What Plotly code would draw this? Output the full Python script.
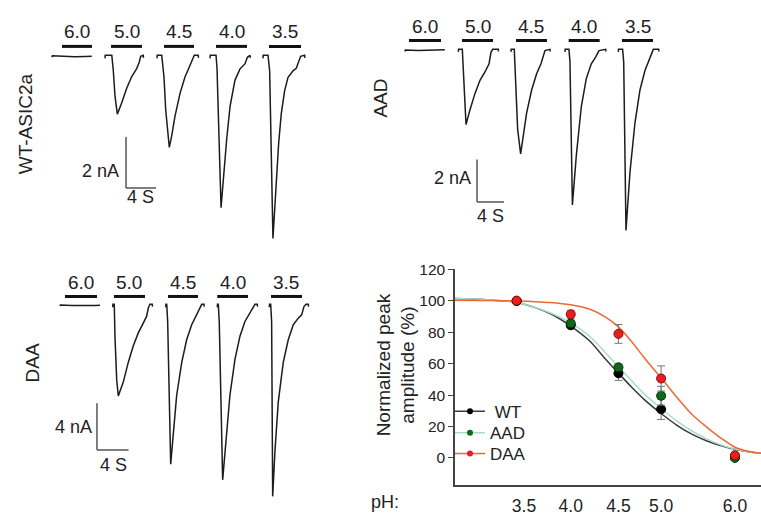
import plotly.graph_objects as go

W, H = 761, 516
FONT = "Liberation Sans, Arial, Helvetica, sans-serif"
INK = "#1c1c1c"

PH_LABELS = ["6.0", "5.0", "4.5", "4.0", "3.5"]

# ---------------- WT-ASIC2a sweeps: time (s, from sweep start) / current (nA)
WT_T = [
    [0, 0.05, 1.5, 3.0, 4.5, 5.3],
    [0, 0.03, 0.9, 1.1, 1.33, 1.64, 2.23, 2.9, 3.56, 4.22, 4.57, 4.75, 5.1, 5.13],
    [0, 0.03, 0.63, 0.93, 1.16, 1.43, 1.64, 1.96, 2.4, 3.07, 3.73, 4.31, 4.63, 4.97, 5.5, 5.53],
    [0, 0.03, 0.8, 0.93, 1.47, 1.78, 2.22, 2.67, 3.33, 4.0, 4.67, 4.98, 5.33, 5.36],
    [0, 0.03, 0.67, 0.89, 1.33, 1.56, 1.78, 2.09, 2.44, 2.89, 3.33, 4.0, 4.44, 4.67, 5.02, 5.56, 5.59],
]
WT_I = [
    [-0.08, -0.02, -0.04, -0.06, -0.05, -0.04],
    [-0.12, 0, 0, -0.58, -1.6, -2.3, -1.86, -1.28, -0.83, -0.52, -0.26, -0.04, 0, -0.1],
    [-0.12, 0, 0, -0.85, -2.13, -3.15, -3.6, -3.15, -2.38, -1.49, -0.85, -0.46, -0.2, 0, 0, -0.1],
    [-0.12, 0, 0, -0.5, -5.96, -4.82, -3.28, -2.0, -0.97, -0.53, -0.33, -0.08, 0, -0.1],
    [-0.12, 0, 0, -0.61, -7.16, -6.0, -4.72, -3.44, -2.28, -1.38, -0.87, -0.61, -0.51, -0.29, -0.04, 0, -0.1],
]
WT_SWEEP_START = [0, 7.07, 14.0, 21.07, 28.13]
WT_BAR_ON = [1.33, 0.8, 0.93, 0.8, 0.8]
WT_BAR_OFF = [5.33, 4.93, 4.93, 4.93, 5.07]

# ---------------- AAD sweeps
AAD_T = [
    [0, 0.05, 2.0, 4.0, 5.9],
    [0, 0.03, 0.59, 0.74, 0.89, 1.14, 1.73, 2.47, 3.21, 3.95, 4.55, 4.84, 5.09, 5.92, 5.95],
    [0, 0.03, 0.49, 0.74, 0.99, 1.43, 1.82, 2.32, 3.06, 3.8, 4.44, 4.79, 5.04, 5.78, 5.81],
    [0, 0.03, 0.59, 0.74, 1.1, 1.68, 2.42, 3.16, 3.9, 4.54, 5.04, 6.03, 6.06],
    [0, 0.03, 0.64, 0.8, 1.14, 1.73, 2.47, 3.21, 3.95, 4.44, 4.94, 5.19, 5.98, 6.01],
]
AAD_I = [
    [-0.1, -0.03, -0.06, -0.05, -0.02],
    [-0.12, 0, 0, -0.99, -2.54, -3.55, -2.85, -2.08, -1.46, -1.07, -0.68, -0.14, 0, 0, -0.1],
    [-0.12, 0, 0, -1.77, -3.78, -4.94, -4.09, -3.0, -1.92, -1.15, -0.68, -0.37, -0.06, 0, -0.1],
    [-0.12, 0, 0, -0.6, -7.35, -5.02, -2.7, -1.38, -0.68, -0.37, -0.06, 0, -0.1],
    [-0.12, 0, 0, -0.6, -8.56, -5.8, -3.47, -1.92, -1.0, -0.6, -0.29, 0, 0, -0.1],
]
AAD_SWEEP_START = [0, 7.9, 15.7, 23.7, 31.6]
AAD_BAR_ON = [0.59, 0.55, 0.74, 0.55, 0.55]
AAD_BAR_OFF = [5.33, 5.14, 5.33, 5.14, 5.14]

# ---------------- DAA sweeps
DAA_T = [
    [0, 0.05, 1.5, 3.0, 4.5, 5.06],
    [0, 0.03, 0.2, 0.29, 0.51, 0.71, 1.34, 1.97, 2.6, 3.24, 3.87, 4.29, 4.5, 4.71, 5.01, 5.04],
    [0, 0.03, 0.13, 0.25, 0.63, 0.96, 1.39, 2.03, 2.66, 3.29, 3.92, 4.34, 4.56, 4.85, 4.88],
    [0, 0.03, 0.13, 0.25, 0.68, 1.1, 1.6, 2.24, 2.87, 3.5, 4.14, 4.48, 4.77, 5.06, 5.09],
    [0, 0.03, 0.18, 0.3, 0.43, 0.72, 1.14, 1.77, 2.41, 3.04, 3.67, 4.1, 4.39, 4.65, 4.94, 4.97],
]
DAA_I = [
    [-0.15, -0.05, -0.1, -0.12, -0.1, -0.08],
    [-0.25, 0, 0, -2.8, -6.47, -7.82, -6.64, -4.96, -3.55, -2.44, -1.6, -1.03, -0.34, 0, 0, -0.2],
    [-0.25, 0, 0, -1.5, -13.64, -10.86, -7.76, -4.96, -3.0, -1.74, -0.9, -0.34, 0, 0, -0.2],
    [-0.25, 0, 0, -1.5, -14.98, -11.4, -7.76, -4.68, -2.72, -1.46, -0.76, -0.34, 0, 0, -0.2],
    [-0.25, 0, 0, -1.5, -16.39, -12.52, -8.32, -4.96, -3.0, -1.74, -1.18, -0.9, -0.19, 0, 0, -0.2],
]
DAA_SWEEP_START = [0, 6.67, 13.38, 19.91, 26.49]
DAA_BAR_ON = [0.63, 0.16, 0.29, 0.0, 0.22]
DAA_BAR_OFF = [4.68, 4.09, 4.09, 3.89, 4.14]

# ---------------- pH dose-response
PH = [3.5, 4.0, 4.5, 5.0, 6.0]
PH_TICKTEXT = ["\u00a0\u00a0\u00a03.5", "4.0", "4.5", "5.0", "6.0"]
WT_NORM = [100.0, 84.5, 53.9, 31.0, 0.5]
WT_SEM = [0.5, 1.5, 4.5, 6.5, 1.0]
AAD_NORM = [100.0, 85.7, 57.7, 39.6, 0.0]
AAD_SEM = [0.5, 2.0, 2.0, 6.0, 1.0]
DAA_NORM = [100.2, 91.5, 79.0, 50.6, 1.7]
DAA_SEM = [0.5, 2.5, 6.0, 8.0, 1.0]

FIT_PH = [3.0, 3.2, 3.5, 3.8, 4.0, 4.2, 4.35, 4.5, 4.65, 4.8, 5.0, 5.2, 5.4, 5.6, 5.8, 6.0, 6.2, 6.4]
WT_FIT = [101.6, 101.0, 99.0, 92.0, 84.0, 74.0, 63.5, 54.0, 45.0, 37.0, 28.3, 20.8, 15.0, 10.8, 7.8, 5.5, 4.0, 3.0]
AAD_FIT = [101.5, 101.0, 99.0, 92.5, 86.0, 77.0, 67.5, 58.0, 49.0, 40.5, 31.5, 23.5, 17.0, 12.0, 8.2, 5.6, 4.0, 3.0]
DAA_FIT = [100.5, 100.3, 100.0, 99.0, 97.5, 94.5, 90.0, 83.5, 74.0, 63.5, 51.0, 38.5, 27.5, 19.5, 12.5, 6.8, 4.2, 2.9]
Y_TICKS = [0, 20, 40, 60, 80, 100, 120]
LEGEND_NAMES = ["\u00a0WT", "AAD", "DAA"]


# ---------------- layout helpers (pixel -> paper)
def px(x):
    return x / W


def py(y):
    return 1 - y / H


def label(text, x, y, size=18, angle=0):
    return dict(text=text, xref="paper", yref="paper", x=px(x), y=py(y),
                showarrow=False, xanchor="center", yanchor="middle", textangle=angle,
                font=dict(size=size, color="#222222", family=FONT))


# panel geometry: box in pixels, t=0 pixel, px per s, baseline pixel, px per nA
PANELS = [
    dict(name="WT-ASIC2a", box=(40, 5, 350, 248), t0=52, pps=7.5, base=48, ppn=26.0,
         T=WT_T, I=WT_I, start=WT_SWEEP_START, on=WT_BAR_ON, off=WT_BAR_OFF,
         bar_y=39, lab_y=24, sb=(9.87, -5.19), sb_nA=2, sb_txt="2 nA",
         sb_lab=(101, 166), s_lab=(140, 192), title=(25, 118)),
    dict(name="AAD", box=(392, 5, 705, 248), t0=405, pps=6.75, base=42, ppn=21.5,
         T=AAD_T, I=AAD_I, start=AAD_SWEEP_START, on=AAD_BAR_ON, off=AAD_BAR_OFF,
         bar_y=33, lab_y=19, sb=(10.67, -7.21), sb_nA=2, sb_txt="2 nA",
         sb_lab=(452, 173), s_lab=(490, 211), title=(381, 92)),
    dict(name="DAA", box=(40, 258, 350, 512), t0=60, pps=7.9, base=301, ppn=11.9,
         T=DAA_T, I=DAA_I, start=DAA_SWEEP_START, on=DAA_BAR_ON, off=DAA_BAR_OFF,
         bar_y=293, lab_y=279, sb=(4.68, -12.44), sb_nA=4, sb_txt="4 nA",
         sb_lab=(73, 426), s_lab=(113, 464), title=(32, 361)),
]

fig = go.Figure()
shapes = []
annotations = []
layout_axes = {}

for k, p in enumerate(PANELS, start=1):
    xa = "x" if k == 1 else f"x{k}"
    ya = "y" if k == 1 else f"y{k}"
    x0, y0, x1, y1 = p["box"]
    xr = [(x0 - p["t0"]) / p["pps"], (x1 - p["t0"]) / p["pps"]]
    yr = [(p["base"] - y1) / p["ppn"], (p["base"] - y0) / p["ppn"]]
    layout_axes["xaxis" if k == 1 else f"xaxis{k}"] = dict(
        domain=[px(x0), px(x1)], range=xr, visible=False, anchor=ya)
    layout_axes["yaxis" if k == 1 else f"yaxis{k}"] = dict(
        domain=[py(y1), py(y0)], range=yr, visible=False, anchor=xa)

    for j in range(5):
        off = p["start"][j]
        fig.add_trace(go.Scatter(
            x=[t + off for t in p["T"][j]], y=p["I"][j], mode="lines",
            line=dict(color=INK, width=1.5), xaxis=xa, yaxis=ya,
            showlegend=False, hoverinfo="skip"))
        b0 = off + p["on"][j]
        b1 = off + p["off"][j]
        shapes.append(dict(type="line", xref=xa, yref="paper",
                           x0=b0, x1=b1, y0=py(p["bar_y"]), y1=py(p["bar_y"]),
                           line=dict(color="#111111", width=3)))
        annotations.append(dict(text=PH_LABELS[j], xref=xa, yref="paper",
                                x=(b0 + b1) / 2, y=py(p["lab_y"]), showarrow=False,
                                xanchor="center", yanchor="middle",
                                font=dict(size=19, color="#222222", family=FONT)))

    # scale bar
    sx, sy = p["sb"]
    shapes.append(dict(type="line", xref=xa, yref=ya, x0=sx, x1=sx, y0=sy, y1=sy + p["sb_nA"],
                       line=dict(color="#555555", width=1.5)))
    shapes.append(dict(type="line", xref=xa, yref=ya, x0=sx, x1=sx + 4, y0=sy, y1=sy,
                       line=dict(color="#555555", width=1.5)))
    annotations.append(label(p["sb_txt"], *p["sb_lab"]))
    annotations.append(label("4 S", *p["s_lab"]))
    annotations.append(label(p["name"], *p["title"], size=19, angle=-90))

# ---------------- dose-response panel (axes 4)
CURVES = [
    (WT_FIT, WT_NORM, WT_SEM, "#3a3a3a", "#000000", "#000000"),
    (AAD_FIT, AAD_NORM, AAD_SEM, "#a9dccb", "#0f6a16", "#0a2a0a"),
    (DAA_FIT, DAA_NORM, DAA_SEM, "#ec6a32", "#ee1c1c", "#7a1010"),
]
for fit, vals, sem, lcol, mcol, ocol in CURVES:
    fig.add_trace(go.Scatter(x=FIT_PH, y=fit, mode="lines",
                             line=dict(color=lcol, width=1.5, shape="spline", smoothing=0.8),
                             xaxis="x4", yaxis="y4", showlegend=False, hoverinfo="skip"))
for fit, vals, sem, lcol, mcol, ocol in CURVES:
    fig.add_trace(go.Scatter(x=PH, y=vals, mode="markers",
                             marker=dict(size=9, color=mcol, line=dict(color=ocol, width=1)),
                             error_y=dict(type="data", array=sem, color="#777777", thickness=1, width=4),
                             xaxis="x4", yaxis="y4", showlegend=False, hoverinfo="skip"))

LEGEND_ROWS = [410, 432, 453]
legends = {}
for i, (fit, vals, sem, lcol, mcol, ocol) in enumerate(CURVES):
    lg = "legend" if i == 0 else f"legend{i + 1}"
    fig.add_trace(go.Scatter(x=[None], y=[None], mode="lines+markers", name=LEGEND_NAMES[i],
                             line=dict(color=lcol, width=1.5),
                             marker=dict(size=6, color=mcol),
                             xaxis="x4", yaxis="y4", showlegend=True, legend=lg))
    legends[lg] = dict(x=px(450), y=py(LEGEND_ROWS[i]), xanchor="left", yanchor="middle",
                       bgcolor="rgba(0,0,0,0)", borderwidth=0,
                       font=dict(size=17, family=FONT, color="#222222"), itemwidth=30)

layout_axes["xaxis4"] = dict(
    domain=[px(455), 1.0], type="log", range=[0.4779, 0.8061], anchor="y4",
    tickvals=PH, ticktext=PH_TICKTEXT, ticks="", showgrid=False, zeroline=False,
    showline=True, linecolor="#444444", linewidth=1.5, ticklabelstandoff=4,
    tickfont=dict(size=17.5, color="#222222", family=FONT))
layout_axes["yaxis4"] = dict(
    domain=[py(485), py(265)], range=[-17.55, 120.4], anchor="x4",
    tickvals=Y_TICKS, ticks="outside", ticklen=5, tickcolor="#444444",
    showgrid=False, zeroline=False, showline=True, linecolor="#444444", linewidth=1.5,
    tickfont=dict(size=15.5, color="#222222", family=FONT))

annotations.append(label("Normalized peak<br>amplitude (%)", 396, 363, size=19, angle=-90))
annotations.append(label("pH:", 385, 502))

fig.update_layout(
    width=W, height=H, margin=dict(l=0, r=0, t=0, b=0),
    paper_bgcolor="white", plot_bgcolor="white",
    font=dict(family=FONT, color="#222222"),
    shapes=shapes, annotations=annotations,
    **legends,
    **layout_axes,
)

fig.write_html("out.html", config={"displayModeBar": False},
               post_script="document.body.style.margin='0';")
